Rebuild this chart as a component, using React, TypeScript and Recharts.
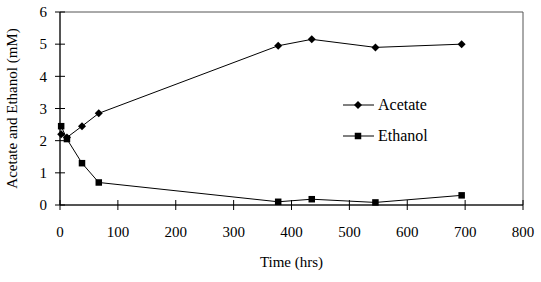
import { Label, Line, LineChart, ReferenceArea, XAxis, YAxis } from "recharts";

const hours = [2, 12, 38, 67, 377, 435, 545, 694];
const acetate = [2.2, 2.1, 2.45, 2.85, 4.95, 5.15, 4.9, 5.0];
const ethanol = [2.45, 2.05, 1.3, 0.7, 0.1, 0.18, 0.08, 0.3];
const xTicks = [0, 100, 200, 300, 400, 500, 600, 700, 800];
const yTicks = [0, 1, 2, 3, 4, 5, 6];

const rows = hours.map((h, i) => ({ h, acetate: acetate[i], ethanol: ethanol[i] }));

const font = "'Liberation Serif', 'Times New Roman', serif";
const TICK = 5;
const X_MARGIN = 16;
const Y_MARGIN = 8;

const XTick = (props: any) => {
  const { x, y, payload } = props;
  const axisY = y - TICK - X_MARGIN;
  return (
    <g>
      <line x1={x} x2={x} y1={axisY} y2={axisY - TICK} stroke="#000" />
      <text x={x} y={y} dy="0.71em" textAnchor="middle" fontFamily={font} fontSize={15} fill="#000">
        {payload.value}
      </text>
    </g>
  );
};

const YTick = (props: any) => {
  const { x, y, payload } = props;
  const axisX = x + TICK + Y_MARGIN;
  return (
    <g>
      <line x1={axisX} x2={axisX + TICK} y1={y} y2={y} stroke="#000" />
      <text x={x} y={y} dy="0.35em" textAnchor="end" fontFamily={font} fontSize={15} fill="#000">
        {payload.value}
      </text>
    </g>
  );
};

// diamond and square markers, sized like the reference
const diamond = (p: any) => (
  <path
    key={`d-${p.index}`}
    d={`M${p.cx},${p.cy - 4}L${p.cx + 4},${p.cy}L${p.cx},${p.cy + 4}L${p.cx - 4},${p.cy}Z`}
    fill="#000"
  />
);

const square = (p: any) => (
  <rect key={`s-${p.index}`} x={p.cx - 3.25} y={p.cy - 3.25} width={6.5} height={6.5} fill="#000" />
);

const legendItems = [
  { name: "Acetate", shape: "diamond" },
  { name: "Ethanol", shape: "square" },
];

const LegendBox = () => (
  <div style={{ position: "absolute", left: 343, top: 90, fontFamily: font, fontSize: 16, color: "#000" }}>
    {legendItems.map((item) => (
      <div key={item.name} style={{ display: "flex", alignItems: "center", height: 30.5 }}>
        <svg width={31} height={10}>
          <line x1={0} x2={31} y1={5} y2={5} stroke="#000" />
          {item.shape === "diamond" ? (
            <path d="M15,1L19,5L15,9L11,5Z" fill="#000" />
          ) : (
            <rect x={11.75} y={1.75} width={6.5} height={6.5} fill="#000" />
          )}
        </svg>
        <span style={{ marginLeft: 4 }}>{item.name}</span>
      </div>
    ))}
  </div>
);

export default function App() {
  return (
    <div style={{ position: "absolute", left: 0, top: 0, width: 541, height: 282, background: "#fff", fontFamily: font }}>
      <LineChart width={541} height={282} data={rows} margin={{ top: 12, right: 18, bottom: 0, left: 0 }}>
        <ReferenceArea x1={0} x2={800} y1={0} y2={6} fill="none" stroke="#555" strokeWidth={1} />
        <XAxis
          dataKey="h"
          type="number"
          domain={[0, 800]}
          ticks={xTicks}
          interval={0}
          height={77}
          tickSize={TICK}
          tickMargin={X_MARGIN}
          tick={XTick}
          axisLine={{ stroke: "#000" }}
          tickLine={{ stroke: "#000" }}
        >
          <Label value="Time (hrs)" position="insideBottom" offset={15} fontFamily={font} fontSize={15} fill="#000" />
        </XAxis>
        <YAxis
          type="number"
          domain={[0, 6]}
          ticks={yTicks}
          interval={0}
          width={60}
          tickSize={TICK}
          tickMargin={Y_MARGIN}
          tick={YTick}
          axisLine={{ stroke: "#000" }}
          tickLine={{ stroke: "#000" }}
        >
          <Label
            value="Acetate and Ethanol (mM)"
            angle={-90}
            position="insideLeft"
            offset={12}
            style={{ textAnchor: "middle" }}
            fontFamily={font}
            fontSize={15}
            fill="#000"
          />
        </YAxis>
        <Line dataKey="acetate" stroke="#000" strokeWidth={1} dot={diamond} isAnimationActive={false} />
        <Line dataKey="ethanol" stroke="#000" strokeWidth={1} dot={square} isAnimationActive={false} />
      </LineChart>
      <LegendBox />
    </div>
  );
}
